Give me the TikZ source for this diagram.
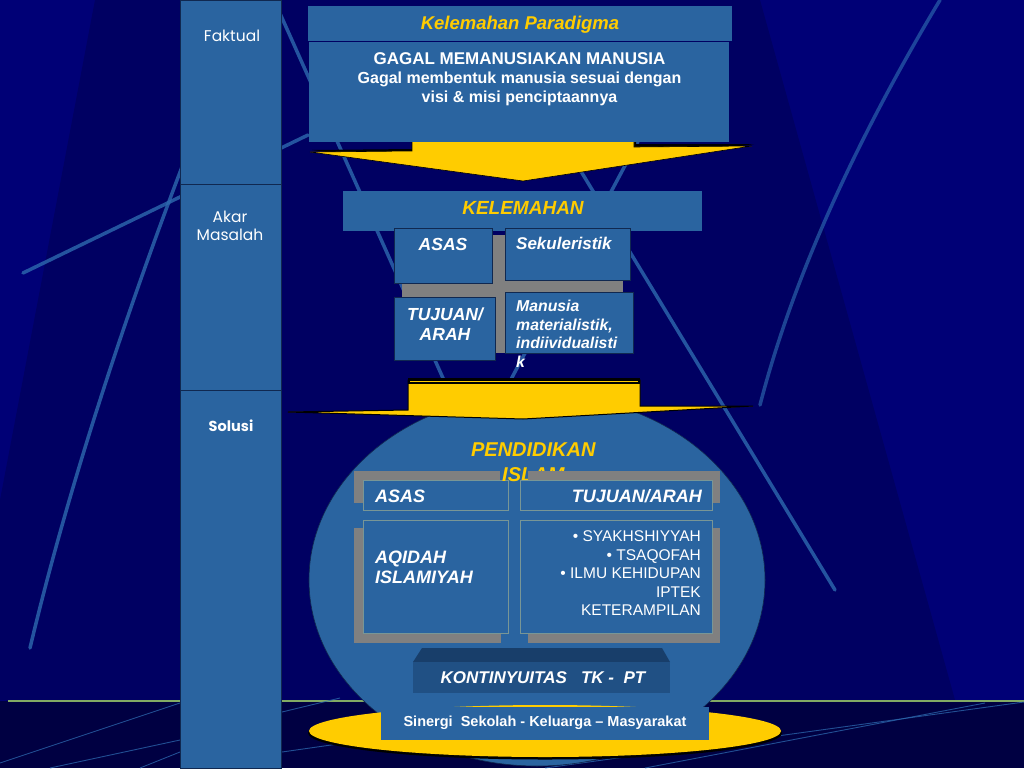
\documentclass[tikz,border=0pt]{standalone}
\usepackage{fontspec}
\setmainfont{Liberation Sans}
\newfontfamily\gothic{Poppins}
\usetikzlibrary{positioning, shapes.geometric}
\definecolor{bgNavy}{RGB}{0,0,118}
\definecolor{bgDark}{RGB}{0,0,98}
\definecolor{bgBottom}{RGB}{0,0,66}
\definecolor{boxBlue}{RGB}{42,100,160}
\definecolor{boxEdge}{RGB}{16,40,80}
\definecolor{frameEdge}{RGB}{120,150,150}
\definecolor{streakBlue}{RGB}{45,105,175}
\definecolor{ppYellow}{RGB}{255,204,0}
\definecolor{frameGray}{RGB}{128,128,128}
\definecolor{kontFront}{RGB}{32,80,132}
\definecolor{kontTop}{RGB}{24,62,106}
\definecolor{lineGreen}{RGB}{130,170,100}
\newcommand\fsz[2]{\fontsize{#1}{#2}\selectfont}

\begin{document}
\begin{tikzpicture}[x=1pt, y=-1pt,
    panel/.style={fill=boxBlue, inner sep=0pt, anchor=north west},
    framed/.style={panel, draw=frameEdge, line width=.6pt},
    shade/.style={fill=frameGray, inner sep=0pt, anchor=north west},
    wtxt/.style={text=white, inner sep=0pt},
    ytxt/.style={text=ppYellow, inner sep=0pt},
    streak/.style={draw=streakBlue, line width=3.5pt, line cap=round, opacity=.8},
    thinstreak/.style={draw=streakBlue, line width=.9pt, opacity=.75},
  ]
    \useasboundingbox (0,0) rectangle (1024,768);
    \clip (0,0) rectangle (1024,768);
    \fill[bgNavy] (0,0) rectangle (1024,768);
    \fill[bgDark] (95,0) -- (760,0) -- (955,700) -- (0,700) -- (0,500) -- cycle;
    \draw[streak] (23,273) -- (308,135);
    \draw[streak] (30,648) .. controls (70,480) and (130,300) .. (200,120);
    \draw[streak] (274,0) -- (455,405);
    \draw[streak] (565,145) -- (835,590);
    \draw[streak] (660,100) -- (500,400);
    \draw[streak, opacity=.65] (940,0) .. controls (880,100) and (800,250) .. (760,405);
    \fill[bgBottom] (0,701) rectangle (1024,768);
    \draw[lineGreen, line width=2pt] (8,700.5) -- (1024,700.5);
    \draw[thinstreak] (0,763) -- (180,703);
    \draw[thinstreak] (50,768) -- (180,740);
    \draw[thinstreak] (140,768) -- (180,752);
    \draw[thinstreak] (282,712) -- (340,698);
    \draw[thinstreak] (282,752) -- (380,738);
    \draw[thinstreak] (545,768) -- (1024,702);
    \draw[thinstreak] (645,768) -- (985,703);

    \node[panel, draw=boxEdge, minimum width=101, minimum height=183.5] (faktual) at (180,0) {};
    \node[panel, draw=boxEdge, minimum width=101, minimum height=206.5] (akar) at (180,183.5) {};
    \node[panel, draw=boxEdge, minimum width=101, minimum height=378] (solusi) at (180,390) {};
    \node[wtxt, anchor=base, font=\gothic\fsz{15.5}{18.3}] (tFaktual) at (232,41.3) {Faktual};
    \node[wtxt, anchor=north, align=center, font=\gothic\fsz{15.5}{18.3}] (tAkar) at (230,210.5) {Akar\\Masalah};
    \node[wtxt, anchor=base, font=\gothic\fsz{14.5}{17}\bfseries] (tSolusi) at (231,431) {Solusi};

    \fill[black] (414,136) -- (636,136) -- (636,144) -- (754,144) -- (525,179) -- (312,150) -- (414,149) -- cycle;
    \filldraw[fill=ppYellow, draw=black, line width=.6pt] (412,138) -- (634,138) -- (634,147) -- (752,146) -- (523,181) -- (310,152) -- (412,151) -- cycle;

    \node[panel, minimum width=424, minimum height=35] (judul) at (308,6) {};
    \node[ytxt, anchor=base, font=\fsz{18.5}{22}\bfseries\itshape] (tJudul) at (520,30) {Kelemahan Paradigma};
    \node[panel, minimum width=420, minimum height=99.7] (gagal) at (309,42) {};
    \node[wtxt, anchor=base, font=\fsz{17}{20}\bfseries] (tGagal) at (519.5,64) {GAGAL MEMANUSIAKAN MANUSIA};
    \node[wtxt, anchor=north, align=center, font=\fsz{16}{18.5}\bfseries] (tVisi) at (519.5,71.8) {Gagal membentuk manusia sesuai dengan\\visi \& misi penciptaannya};

    \node[panel, minimum width=359, minimum height=40] (kelemahan) at (343,190.7) {};
    \node[ytxt, anchor=base, font=\fsz{19}{22}\bfseries\itshape] (tKelemahan) at (523,214.5) {KELEMAHAN};
    \node[shade, minimum width=221, minimum height=118] (silang) at (402,235) {};
    \node[panel, draw=boxEdge, minimum width=98, minimum height=55] (asas) at (394,227.7) {};
    \node[panel, draw=boxEdge, minimum width=125, minimum height=52] (sekuler) at (505,227.7) {};
    \node[panel, draw=boxEdge, minimum width=101, minimum height=63] (tujuan) at (394,297) {};
    \node[panel, draw=boxEdge, minimum width=127.7, minimum height=61.7] (manusia) at (505,291.7) {};
    \node[wtxt, anchor=base, font=\fsz{17.5}{20}\bfseries\itshape] (tAsas) at (443,250) {ASAS};
    \node[wtxt, anchor=base west, font=\fsz{17}{20}\bfseries\itshape] (tSekuler) at (516,249.3) {Sekuleristik};
    \node[wtxt, anchor=north, align=center, font=\fsz{17.5}{20}\bfseries\itshape] (tTujuan) at (445,307.4) {TUJUAN/\\ARAH};
    \node[wtxt, anchor=north west, align=left, font=\fsz{15.8}{18.4}\bfseries\itshape] (tManusia) at (516,300.3) {Manusia\\materialistik,\\indiividualisti\\k};

    \node[ellipse, fill=boxBlue, draw=boxEdge, line width=.6pt, minimum width=456, minimum height=372] (lingkar) at (537,580) {};
    \filldraw[fill=ppYellow, draw=black, line width=1pt] (408,380) -- (640,380) -- (640,406) -- (753,406) -- (523,419) -- (288,412) -- (408,410) -- cycle;
    \fill[black] (408,377.5) rectangle (640,384);
    \draw[ppYellow, line width=.8pt] (410,381) -- (638,381);

    \node[shade, minimum width=146, minimum height=32.3] (gAsas) at (354,470.7) {};
    \node[shade, minimum width=147, minimum height=115] (gAqidah) at (354,528) {};
    \node[framed, minimum width=145.6, minimum height=30] (hAsas) at (362.7,480) {};
    \node[framed, minimum width=145.6, minimum height=113.3] (bAqidah) at (362.7,520) {};
    \node[wtxt, anchor=base west, font=\fsz{18}{20}\bfseries\itshape] (tHAsas) at (375,502.3) {ASAS};
    \node[wtxt, anchor=north west, align=left, font=\fsz{18}{20}\bfseries\itshape] (tAqidah) at (375,550.3) {AQIDAH\\ISLAMIYAH};
    \node[ytxt, anchor=north, align=center, font=\fsz{20}{25}\bfseries\itshape] (tPendidikan) at (533.3,442.9) {PENDIDIKAN\\ISLAM};
    \node[shade, minimum width=192, minimum height=32.3] (gTujuan) at (528,470.7) {};
    \node[shade, minimum width=192, minimum height=114.7] (gTarget) at (528,528) {};
    \node[framed, minimum width=191.7, minimum height=30] (hTujuan) at (520,480) {};
    \node[framed, minimum width=191.7, minimum height=113.3] (bTarget) at (520,520) {};
    \node[wtxt, anchor=base east, font=\fsz{18}{20}\bfseries\itshape] (tHTujuan) at (702,502.3) {TUJUAN/ARAH};
    \node[wtxt, anchor=north east, align=right, font=\fsz{15.5}{18.6}] (tTarget) at (701,530.5) {• SYAKHSHIYYAH\\• TSAQOFAH\\• ILMU KEHIDUPAN\\IPTEK\\KETERAMPILAN};

    \fill[kontTop] (413,662) -- (422,648) -- (662,648) -- (670,662) -- cycle;
    \node[panel, fill=kontFront, minimum width=257, minimum height=31] (kontinyu) at (413,662) {};
    \node[wtxt, anchor=base, font=\fsz{17}{20}\bfseries\itshape] (tKontinyu) at (543,683.3) {KONTINYUITAS\ \ \ TK -\ \ PT};

    \node[ellipse, fill=black, minimum width=474, minimum height=53] (alasBayang) at (545,733) {};
    \node[ellipse, fill=ppYellow, minimum width=472, minimum height=52] (alas) at (545,731) {};
    \node[panel, minimum width=327.7, minimum height=33.3] (sinergi) at (381,706.7) {};
    \node[wtxt, anchor=base, font=\fsz{14.5}{17}\bfseries] (tSinergi) at (545,726.7) {Sinergi\ \ Sekolah - Keluarga – Masyarakat};
  \end{tikzpicture}
\end{document}
